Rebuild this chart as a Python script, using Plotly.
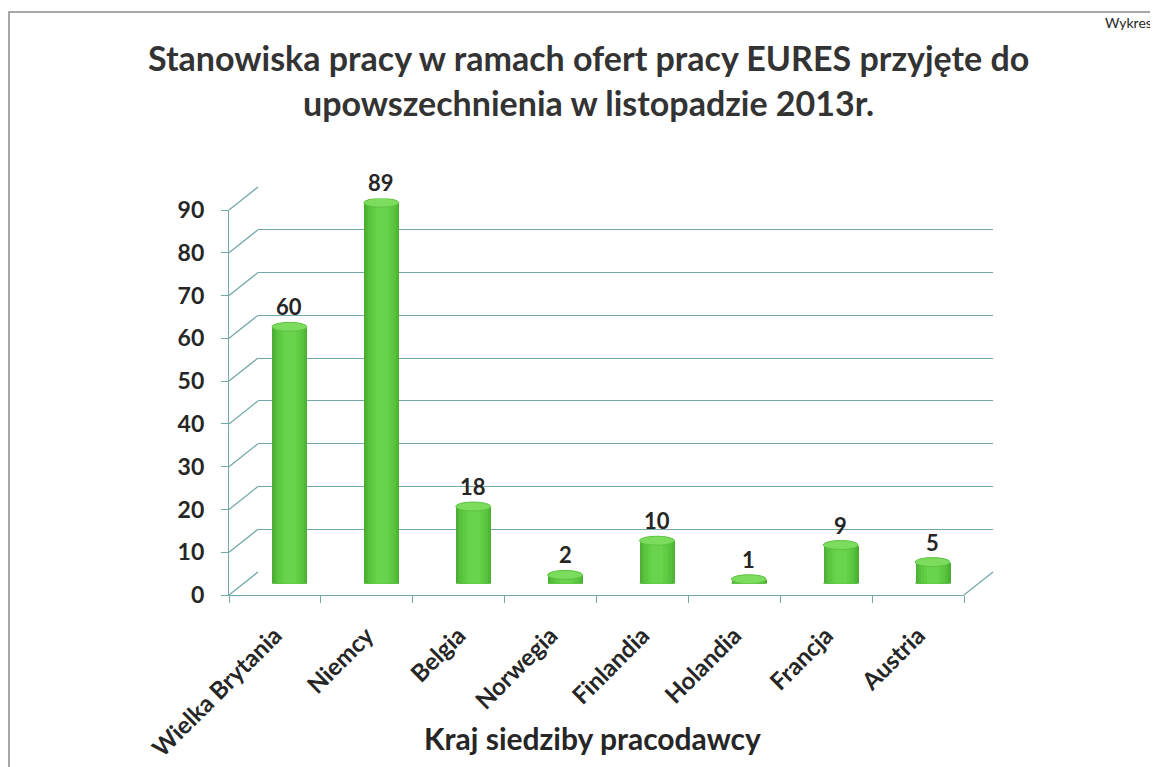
import plotly.graph_objects as go

# ---------------- data ----------------
categories = ["Wielka Brytania", "Niemcy", "Belgia", "Norwegia",
              "Finlandia", "Holandia", "Francja", "Austria"]
values = [60, 89, 18, 2, 10, 1, 9, 5]
y_ticks = [0, 10, 20, 30, 40, 50, 60, 70, 80, 90]

title_line1 = "Stanowiska pracy w ramach ofert pracy EURES przyjęte do"
title_line2 = "upowszechnienia w listopadzie 2013r."
x_title = "Kraj siedziby pracodawcy"

# ---------------- geometry (page pixels) ----------------
OFF = 8                  # default page body margin
W, H = 1158 - OFF, 767 - OFF
FX0, FX1 = 229, 964      # front plane x extent
FY0, FY1 = 595, 210      # front plane y for 0 and 90
DX, DY = 29, -23         # depth offset of back wall
YMAX = 90

def px(x):
    return (x - OFF) / W

def py(y):
    return 1 - (y - OFF) / H

def vy_front(v):
    return FY0 + (FY1 - FY0) * v / YMAX

GRID = "#74a9a8"
FONT = "Lato"
TXT = "#262626"

fig = go.Figure()

# bars (mid depth plane: x3/y3), layered to fake cylinder shading
n = len(categories)
idx = list(range(n))
layers = [(0.38, "#4aae32"), (0.35, "#51b837"), (0.31, "#57c03c"),
          (0.26, "#5cc740"), (0.20, "#62cd45"), (0.13, "#68d34b")]
for w, c in layers:
    fig.add_trace(go.Bar(x=idx, y=values, width=w, marker=dict(color=c, line=dict(width=0)),
                         xaxis="x3", yaxis="y3", hoverinfo="skip", showlegend=False))

# invisible traces to activate front and back axes
fig.add_trace(go.Scatter(x=categories, y=[None] * n, xaxis="x", yaxis="y",
                         mode="markers", showlegend=False, hoverinfo="skip"))
fig.add_trace(go.Scatter(x=categories, y=[None] * n, xaxis="x2", yaxis="y2",
                         mode="markers", showlegend=False, hoverinfo="skip"))

# cylinder caps
mid_scale = (FY0 - FY1) / YMAX       # px per unit
e = 4.5 / mid_scale                  # ellipse half height in data units
bw = 0.38
shapes = []
for i, v in enumerate(values):
    shapes.append(dict(type="circle", xref="x3", yref="y3",
                       x0=i - bw / 2, x1=i + bw / 2, y0=-e, y1=e,
                       fillcolor="#4aae32", line=dict(width=0), layer="between"))
    shapes.append(dict(type="circle", xref="x3", yref="y3",
                       x0=i - bw / 2, x1=i + bw / 2, y0=v - e, y1=v + e,
                       fillcolor="#7bdc5d", line=dict(color="#5cc23f", width=1), layer="above"))

# side-wall gridline diagonals
for t in y_ticks:
    yf = vy_front(t)
    shapes.append(dict(type="line", xref="paper", yref="paper",
                       x0=px(FX0), y0=py(yf), x1=px(FX0 + DX), y1=py(yf + DY),
                       line=dict(color=GRID, width=1.3), layer="below"))
# floor right edge
shapes.append(dict(type="line", xref="paper", yref="paper",
                   x0=px(FX1), y0=py(FY0), x1=px(FX1 + DX), y1=py(FY0 + DY),
                   line=dict(color=GRID, width=1.3), layer="below"))
# outer frame
shapes.append(dict(type="rect", xref="paper", yref="paper",
                   x0=px(9), y0=-0.05, x1=1.05, y1=py(12),
                   line=dict(color="#8c8c8c", width=1.5), layer="below"))

annotations = []
for i, v in enumerate(values):
    annotations.append(dict(x=i, y=v, xref="x3", yref="y3", text=str(v),
                            showarrow=False, yshift=20,
                            font=dict(family=FONT, size=22, color=TXT, weight="bold")))
annotations += [
    dict(x=px(588), y=py(57), xref="paper", yref="paper", text=title_line1, showarrow=False,
         xanchor="center", yanchor="middle",
         font=dict(family=FONT, size=34, color="#333333", weight="bold")),
    dict(x=px(588), y=py(103), xref="paper", yref="paper", text=title_line2, showarrow=False,
         xanchor="center", yanchor="middle",
         font=dict(family=FONT, size=34, color="#333333", weight="bold")),
    dict(x=px(592), y=py(738), xref="paper", yref="paper", text=x_title, showarrow=False,
         xanchor="center", yanchor="middle",
         font=dict(family=FONT, size=30, color=TXT, weight="bold")),
    dict(x=px(1154), y=py(22), xref="paper", yref="paper", text="Wykres", showarrow=False,
         xanchor="right", yanchor="middle",
         font=dict(family=FONT, size=14, color=TXT)),
]

fig.update_layout(
    width=W, height=H,
    margin=dict(l=0, r=0, t=0, b=0, pad=0),
    paper_bgcolor="white", plot_bgcolor="rgba(0,0,0,0)",
    barmode="overlay", bargap=0,
    shapes=shapes, annotations=annotations,
    # front plane: axes, ticks, labels
    xaxis=dict(domain=[px(FX0), px(FX1)], anchor="y", type="category", automargin=False,
               range=[-0.5, n - 0.5], tickson="boundaries", ticks="outside", ticklen=7,
               tickcolor=GRID, showline=True, linecolor=GRID, linewidth=1.3,
               showgrid=False, zeroline=False, tickangle=-45, ticklabelstandoff=16,
               tickfont=dict(family=FONT, size=24, color=TXT, weight="bold")),
    yaxis=dict(domain=[py(FY0), py(FY1)], anchor="x", range=[0, YMAX], automargin=False,
               tickvals=y_ticks, ticks="outside", ticklen=7, tickcolor=GRID,
               ticklabelstandoff=12,
               showline=True, linecolor=GRID, linewidth=1.3, showgrid=False, zeroline=False,
               tickfont=dict(family=FONT, size=23, color=TXT, weight="bold")),
    # back wall: gridlines
    xaxis2=dict(domain=[px(FX0 + DX), px(FX1 + DX)], anchor="y2", type="category",
                automargin=False,
                range=[-0.5, n - 0.5], showticklabels=False, ticks="", showgrid=False,
                zeroline=False, showline=False),
    yaxis2=dict(domain=[py(FY0 + DY), py(FY1 + DY)], anchor="x2", range=[0, YMAX],
                automargin=False,
                tickvals=y_ticks, showticklabels=False, ticks="", showgrid=True,
                gridcolor=GRID, gridwidth=1.3, zeroline=False, showline=False),
    # mid-depth plane: bars
    xaxis3=dict(domain=[px(FX0 + DX / 2), px(FX1 + DX / 2)], anchor="y3", automargin=False,
                range=[-0.5, n - 0.5], visible=False),
    yaxis3=dict(domain=[py(FY0 + DY / 2), py(FY1 + DY / 2)], anchor="x3", automargin=False,
                range=[0, YMAX], visible=False),
)

fig.write_html("out.html")
